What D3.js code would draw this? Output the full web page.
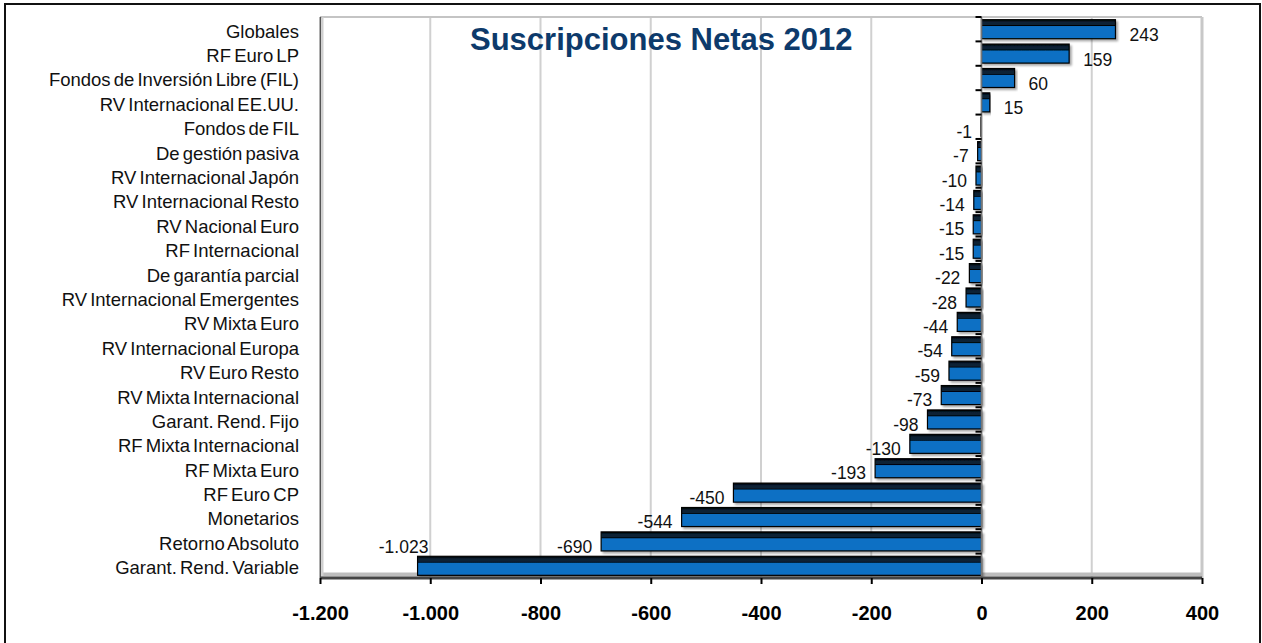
<!DOCTYPE html>
<html>
<head>
<meta charset="utf-8">
<script src="https://cdn.jsdelivr.net/npm/d3@7"></script>
<style>
  body { margin: 0; background: #fff; }
  text { font-family: "Liberation Sans", Arial, sans-serif; }
</style>
</head>
<body>
<div id="graph"></div>
<script>

// Datos
var categories = ["Globales", "RF Euro LP", "Fondos de Inversión Libre (FIL)", "RV Internacional EE.UU.",
    "Fondos de FIL", "De gestión pasiva", "RV Internacional Japón", "RV Internacional Resto",
    "RV Nacional Euro", "RF Internacional", "De garantía parcial", "RV Internacional Emergentes",
    "RV Mixta Euro", "RV Internacional Europa", "RV Euro Resto", "RV Mixta Internacional",
    "Garant. Rend. Fijo", "RF Mixta Internacional", "RF Mixta Euro", "RF Euro CP",
    "Monetarios", "Retorno Absoluto", "Garant. Rend. Variable"];

var values = [243, 159, 60, 15, -1, -7, -10, -14, -15, -15, -22, -28, -44, -54, -59, -73,
    -98, -130, -193, -450, -544, -690, -1023];

var xTicks = [-1200, -1000, -800, -600, -400, -200, 0, 200, 400];

var title = "Suscripciones Netas 2012";

var W = 1262, H = 643;
var margin = {top: 17, right: 60, bottom: 65, left: 320},
    width = W - margin.left - margin.right,
    height = H - margin.top - margin.bottom;

var es = d3.formatLocale({decimal: ",", thousands: ".", grouping: [3], currency: ["", " €"], minus: "-"});
var fmt = es.format(",.0f");

var data = categories.map(function(c, i) { return {cat: c, val: values[i]}; });

var svg = d3.select("#graph").append("svg")
    .attr("width", W)
    .attr("height", H);

var defs = svg.append("defs");
var grad = defs.append("linearGradient")
    .attr("id", "barGrad")
    .attr("x1", 0).attr("y1", 0).attr("x2", 0).attr("y2", 1);
grad.append("stop").attr("offset", "0%").attr("stop-color", "#000");
grad.append("stop").attr("offset", "14%").attr("stop-color", "#0a2136");
grad.append("stop").attr("offset", "27%").attr("stop-color", "#0a2136");
grad.append("stop").attr("offset", "31%").attr("stop-color", "#000");
grad.append("stop").attr("offset", "36%").attr("stop-color", "#0b70c4");
grad.append("stop").attr("offset", "100%").attr("stop-color", "#0b70c4");

var shadow = defs.append("filter").attr("id", "shadow")
    .attr("x", "-5%").attr("y", "-30%").attr("width", "115%").attr("height", "170%");
shadow.append("feDropShadow")
    .attr("dx", 2).attr("dy", 2).attr("stdDeviation", 1.2)
    .attr("flood-color", "#000").attr("flood-opacity", 0.35);

// marco exterior
svg.append("rect")
    .attr("x", 5).attr("y", 4)
    .attr("width", 1255).attr("height", 700)
    .attr("fill", "none")
    .attr("stroke", "#111")
    .attr("stroke-width", 2);

var g = svg.append("g")
    .attr("transform", "translate(" + margin.left + "," + margin.top + ")");

// Escalas
var xScale = d3.scaleLinear()
    .domain([-1200, 400])
    .range([0, width]);

var yScale = d3.scaleBand()
    .domain(categories)
    .range([0, height])
    .paddingInner(0.22)
    .paddingOuter(0.11);

// rejilla vertical
g.selectAll(".grid")
    .data(xTicks)
    .enter().append("line")
    .attr("class", "grid")
    .attr("x1", function(d) { return xScale(d); })
    .attr("x2", function(d) { return xScale(d); })
    .attr("y1", 0)
    .attr("y2", height)
    .attr("stroke", "#d0d0d0")
    .attr("stroke-width", 2);

// borde del área de trazado
g.append("line").attr("x1", 0).attr("x2", width).attr("y1", 0).attr("y2", 0)
    .attr("stroke", "#c4c4c4").attr("stroke-width", 2);
g.append("line").attr("x1", width).attr("x2", width).attr("y1", 0).attr("y2", height)
    .attr("stroke", "#c8c8c8").attr("stroke-width", 3);
g.append("line").attr("x1", 2).attr("x2", width).attr("y1", height - 3.5).attr("y2", height - 3.5)
    .attr("stroke", "#bdbdbd").attr("stroke-width", 4);
g.append("line").attr("x1", 0.5).attr("x2", 0.5).attr("y1", 0).attr("y2", height)
    .attr("stroke", "#555").attr("stroke-width", 1.5);
g.append("line").attr("x1", 2.5).attr("x2", 2.5).attr("y1", 0).attr("y2", height)
    .attr("stroke", "#cfcfcf").attr("stroke-width", 2);

// barras
g.selectAll(".bar")
    .data(data)
    .enter().append("rect")
    .attr("class", "bar")
    .attr("x", function(d) { return xScale(Math.min(0, d.val)); })
    .attr("y", function(d) { return yScale(d.cat); })
    .attr("width", function(d) { return Math.abs(xScale(d.val) - xScale(0)); })
    .attr("height", yScale.bandwidth())
    .attr("fill", "url(#barGrad)")
    .attr("stroke", "#000")
    .attr("stroke-width", 1.2)
    .attr("filter", "url(#shadow)");

// eje vertical en cero con marcas entre categorías
g.append("line")
    .attr("x1", xScale(0)).attr("x2", xScale(0))
    .attr("y1", 0).attr("y2", height)
    .attr("stroke", "#777").attr("stroke-width", 1.5);

var step = yScale.step();
g.selectAll(".ytick")
    .data(d3.range(categories.length + 1))
    .enter().append("line")
    .attr("class", "ytick")
    .attr("x1", xScale(0) - 6).attr("x2", xScale(0))
    .attr("y1", function(i) { return yScale(categories[0]) - yScale.paddingInner() * step / 2 + i * step; })
    .attr("y2", function(i) { return yScale(categories[0]) - yScale.paddingInner() * step / 2 + i * step; })
    .attr("stroke", "#000").attr("stroke-width", 2);

// eje X
var xAxis = g.append("g")
    .attr("class", "x axis")
    .attr("transform", "translate(0," + height + ")")
    .call(d3.axisBottom(xScale).tickValues(xTicks).tickFormat(fmt).tickSize(6).tickPadding(22));

xAxis.select(".domain").attr("stroke", "#444").attr("stroke-width", 3).attr("d", "M0,0H" + width);
xAxis.selectAll(".tick line").attr("stroke", "#000").attr("stroke-width", 2);
xAxis.selectAll(".tick text")
    .attr("font-family", "Liberation Sans, Arial, sans-serif")
    .attr("font-size", 20)
    .attr("font-weight", "bold")
    .attr("fill", "#000");

// etiquetas de categoría
g.selectAll(".catLabel")
    .data(data)
    .enter().append("text")
    .attr("class", "catLabel")
    .attr("x", -21)
    .attr("y", function(d) { return yScale(d.cat) + yScale.bandwidth() / 2 + 2; })
    .attr("dy", "0.35em")
    .attr("text-anchor", "end")
    .attr("font-size", 18.5)
    .attr("word-spacing", -2)
    .attr("fill", "#111")
    .text(function(d) { return d.cat; });

// etiquetas de valor
g.selectAll(".valLabel")
    .data(data)
    .enter().append("text")
    .attr("class", "valLabel")
    .attr("font-size", 17.5)
    .attr("fill", "#111")
    .text(function(d) { return fmt(d.val); })
    .each(function(d) {
        var t = d3.select(this);
        var cy = yScale(d.cat) + yScale.bandwidth() / 2;
        var end = xScale(d.val);
        var w = this.getComputedTextLength();
        if (d.val >= 0) {
            t.attr("x", end + 14).attr("y", cy + 6).attr("dy", "0.35em").attr("text-anchor", "start");
        } else if (end - 9 - w < 60) {
            // sin hueco a la izquierda: encima del extremo de la barra
            t.attr("x", end - 14).attr("y", cy - 19).attr("dy", "0.35em").attr("text-anchor", "middle");
        } else {
            t.attr("x", end - 9).attr("y", cy + 5).attr("dy", "0.35em").attr("text-anchor", "end");
        }
    });

// título
svg.append("text")
    .attr("x", 470)
    .attr("y", 50)
    .attr("font-size", 31)
    .attr("font-weight", "bold")
    .attr("fill", "#0d3a6b")
    .text(title);

</script>
</body>
</html>
